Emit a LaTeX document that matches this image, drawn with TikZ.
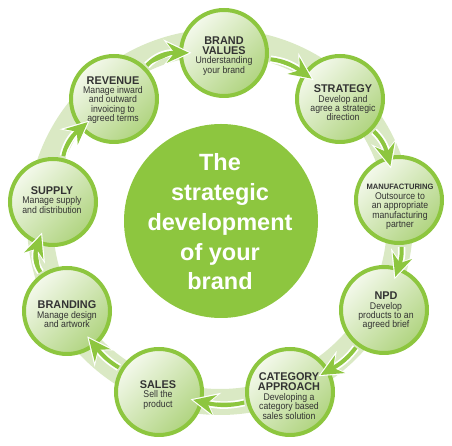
\documentclass[tikz,border=0pt]{standalone}
\usepackage{fontspec}
\setmainfont{Liberation Sans}
\newfontfamily\bodyf[FakeStretch=0.9]{Liberation Sans}
\newfontfamily\titlef[FakeStretch=0.97]{Liberation Sans Bold}
\usetikzlibrary{arrows.meta}
\definecolor{gmain}{HTML}{8DC63F}
\definecolor{gband}{HTML}{DAE9C4}
\definecolor{glight}{HTML}{F4F9EC}
\definecolor{gdark}{HTML}{B0D480}
\definecolor{tcol}{HTML}{333333}
\newcommand\ttl{\titlef\fontsize{11.2}{10}\selectfont}
\newcommand\ttlsmall{\titlef\fontsize{7.8}{9}\selectfont}
\newcommand\bd{\bodyf\fontsize{9.7}{9.4}\selectfont}
\tikzset{
  bub/.style={circle, minimum size=86pt, inner sep=0pt, draw=gmain, line width=4pt,
              top color=glight, bottom color=gdark, shading angle=45},
  txt/.style={align=center, text=tcol, font=\bd, inner sep=0pt},
  ctext/.style={align=center, text=white, font=\fontsize{23.5}{29.7}\selectfont\bfseries, inner sep=0pt},
  casing/.style={draw=white, fill=white, line width=7.5pt, shorten <=2pt, shorten >=-12.5pt,
    -{Stealth[length=28pt,width=26pt,inset=10pt]}},
  flow/.style={draw=gmain, fill=gmain, line width=4pt, shorten <=2pt, shorten >=-10pt,
    -{Stealth[length=22pt,width=20pt,inset=7.5pt]}}
}
\begin{document}
\begin{tikzpicture}[x=1pt,y=1pt]
\useasboundingbox (0,0) rectangle (452,446);
% pale track
\draw[gband, line width=26pt] (220,224) circle[radius=180];
% central disc
\fill[gmain] (221,225) circle[radius=97];
\node[ctext] (title) at (220,224) {The\\strategic\\development\\of your\\brand};
% step circles
\node[bub] (rev)   at (114,347) {};
\node[bub] (bv)    at (224,393) {};
\node[bub] (strat) at (340,347) {};
\node[bub] (manu)  at (399,246) {};
\node[bub] (npd)   at (384,136) {};
\node[bub] (cat)   at (290,54) {};
\node[bub] (sales) at (159,54) {};
\node[bub] (brd)   at (67,135) {};
\node[bub] (sup)   at (53,244) {};
% texts
\node[txt] (trev)   at (113,346) {{\ttl REVENUE}\\Manage inward\\and outward\\invoicing to\\agreed terms};
\node[txt] (tbv)    at (224,390) {{\ttl BRAND}\\[0.8pt]{\ttl VALUES}\\Understanding\\your brand};
\node[txt] (tstrat) at (343,343) {{\ttl STRATEGY}\\Develop and\\agree a strategic\\direction};
\node[txt] (tmanu)  at (400,239) {{\ttlsmall MANUFACTURING}\\Outsource to\\an appropriate\\manufacturing\\partner};
\node[txt] (tnpd)   at (386,135) {{\ttl NPD}\\Develop\\products to an\\agreed brief};
\node[txt] (tcat)   at (289,50)  {{\ttl CATEGORY}\\[0.8pt]{\ttl APPROACH}\\Developing a\\category based\\sales solution};
\node[txt] (tsales) at (158,51)  {{\ttl SALES}\\Sell the\\product};
\node[txt] (tbrd)   at (67,131.5) {{\ttl BRANDING}\\Manage design\\and artwork};
\node[txt] (tsup)   at (52,246)  {{\ttl SUPPLY}\\Manage supply\\and distribution};
% connectors
\foreach \a/\b/\ang in {rev/bv/23, bv/strat/14, strat/manu/16, manu/npd/11, npd/cat/12,
                        cat/sales/13, sales/brd/10, brd/sup/27, sup/rev/18} {
  \draw[casing] (\a) to[bend left=\ang] (\b);
  \draw[flow] (\a) to[bend left=\ang] (\b);
}
\end{tikzpicture}
\end{document}
